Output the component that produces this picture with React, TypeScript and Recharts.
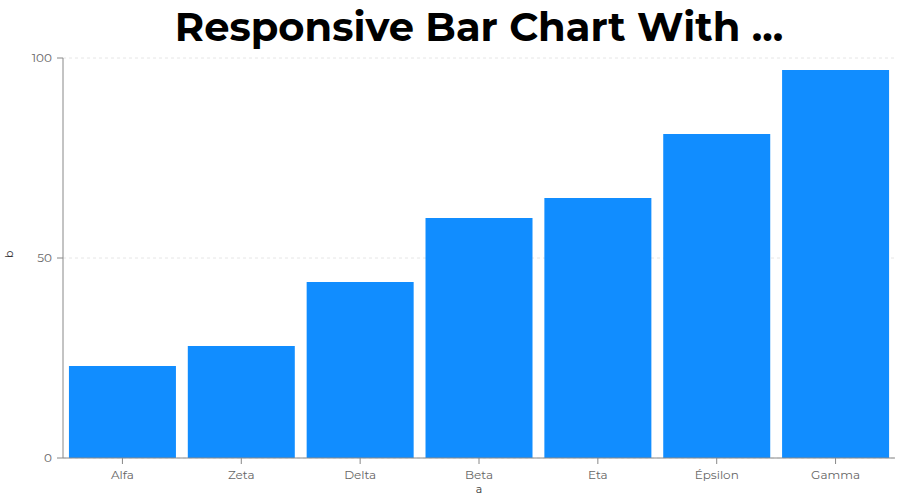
import { BarChart, Bar, XAxis, YAxis, CartesianGrid } from "recharts";

const categories = ["Alfa", "Zeta", "Delta", "Beta", "Eta", "Épsilon", "Gamma"];
const values = [23, 28, 44, 60, 65, 81, 97];
const yTicks = [0, 50, 100];

const data = categories.map((a, i) => ({ a, b: values[i] }));

const font = "Montserrat, 'Open Sans', sans-serif";

const App = () => {
  return (
    <div style={{ position: "absolute", left: 0, top: 0, width: 900, height: 499, background: "#fff" }}>
      <div
        style={{
          position: "absolute",
          top: 2,
          left: 63,
          width: 832,
          textAlign: "center",
          fontFamily: font,
          fontWeight: 700,
          fontSize: 40,
          color: "#000",
          lineHeight: "50px",
        }}
      >
        Responsive Bar Chart With ...
      </div>
      <BarChart
        width={900}
        height={499}
        data={data}
        margin={{ top: 58, right: 5, left: 0, bottom: 11 }}
        barCategoryGap="5%"
      >
        <CartesianGrid vertical={false} stroke="#e6e6e6" strokeDasharray="3 3" />
        <XAxis
          dataKey="a"
          height={30}
          stroke="#888"
          tickMargin={6}
          tick={{ fill: "#666", fontSize: 12, fontFamily: font }}
          label={{ value: "a", position: "insideBottom", offset: -5, fill: "#333", fontSize: 11, fontFamily: font }}
        />
        <YAxis
          width={63}
          domain={[0, 100]}
          ticks={yTicks}
          stroke="#888"
          tickMargin={5}
          tick={{ fill: "#666", fontSize: 12, fontFamily: font }}
          label={{ value: "b", angle: -90, position: "insideLeft", offset: 9, fill: "#333", fontSize: 11, fontFamily: font }}
        />
        <Bar dataKey="b" fill="#118DFF" isAnimationActive={false} />
      </BarChart>
    </div>
  );
};

export default App;
